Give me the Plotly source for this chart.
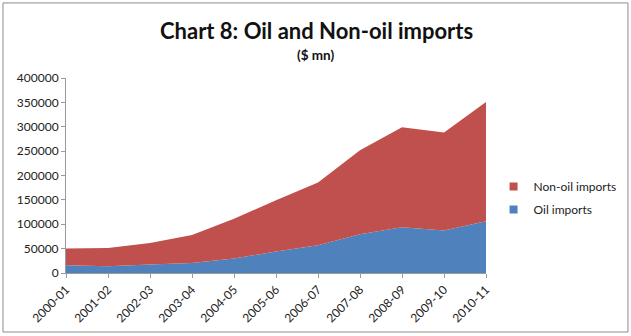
import plotly.graph_objects as go

years = ["2000-01", "2001-02", "2002-03", "2003-04", "2004-05", "2005-06",
         "2006-07", "2007-08", "2008-09", "2009-10", "2010-11"]
oil = [15700, 14000, 17600, 20600, 29800, 44000, 57100, 79600, 93700, 87100, 106000]
non_oil = [34800, 37400, 43800, 57500, 81700, 105200, 128600, 172100, 205100, 201300, 244700]
y_ticks = [0, 50000, 100000, 150000, 200000, 250000, 300000, 350000, 400000]

x = list(range(len(years)))
FONT = "Lato"
BLUE = "#4F81BD"
RED = "#C0504D"

fig = go.Figure()
fig.add_trace(go.Scatter(x=x, y=oil, name="Oil imports", stackgroup="one",
                         mode="none", fillcolor=BLUE, showlegend=False))
fig.add_trace(go.Scatter(x=x, y=non_oil, name="Non-oil imports", stackgroup="one",
                         mode="none", fillcolor=RED, showlegend=False))
# legend entries (square swatches)
fig.add_trace(go.Scatter(x=[None], y=[None], name="Non-oil imports", mode="markers",
                         legendgroup="a", marker=dict(symbol="square", size=8, color=RED)))
fig.add_trace(go.Scatter(x=[None], y=[None], name="Oil imports", mode="markers",
                         legendgroup="b", marker=dict(symbol="square", size=8, color=BLUE)))

fig.update_layout(
    width=631, height=336,
    margin=dict(l=66, r=145, t=78, b=63, autoexpand=False),
    paper_bgcolor="white", plot_bgcolor="white",
    font=dict(family=FONT, size=12, color="#222"),
    showlegend=True,
    legend=dict(traceorder="grouped", x=1.018, y=0.385, yanchor="middle", xanchor="left",
                font=dict(size=12, color="#222"), itemwidth=30, tracegroupgap=4,
                bgcolor="rgba(0,0,0,0)"),
    xaxis=dict(tickmode="array", tickvals=x, ticktext=years, range=[0, len(years) - 1],
               tickangle=-45, showgrid=False, showline=True, linecolor="#9a9a9a",
               ticks="outside", ticklen=4, tickcolor="#9a9a9a", zeroline=False,
               tickfont=dict(size=12)),
    yaxis=dict(range=[0, 400000], tickvals=y_ticks, showgrid=False, showline=True,
               linecolor="#9a9a9a", ticks="outside", ticklen=4, tickcolor="#9a9a9a",
               zeroline=False, tickformat="d", tickfont=dict(size=12)),
    shapes=[dict(type="rect", xref="paper", yref="paper",
                 x0=-0.15, x1=1.338, y0=-0.3026, y1=1.385,
                 line=dict(color="#8c8c8c", width=1), fillcolor="rgba(0,0,0,0)")],
    annotations=[
        dict(text="<b>Chart 8: Oil and Non-oil imports</b>", xref="paper", yref="paper",
             x=(316 - 66) / 420, y=(273 - 30) / 195, xanchor="center", yanchor="middle",
             showarrow=False, font=dict(size=22, color="#111", family=FONT)),
        dict(text="<b>($ mn)</b>", xref="paper", yref="paper",
             x=(316 - 66) / 420, y=(273 - 55) / 195, xanchor="center", yanchor="middle",
             showarrow=False, font=dict(size=13.5, color="#111", family=FONT)),
    ],
)

fig.write_html("out.html")
